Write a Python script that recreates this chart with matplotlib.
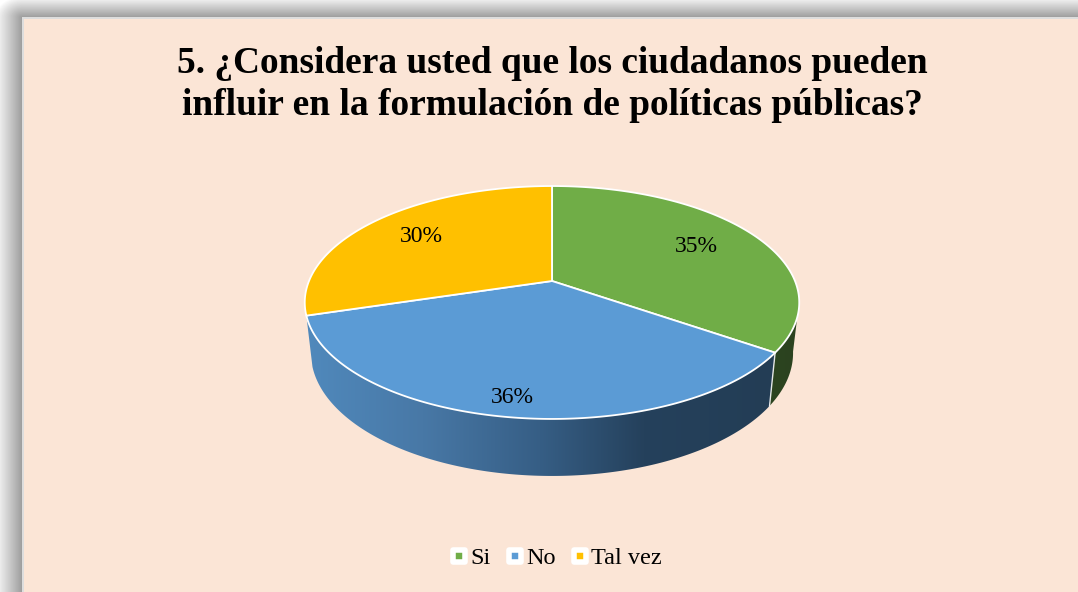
import numpy as np
import matplotlib
matplotlib.use("Agg")
import matplotlib.pyplot as plt
from matplotlib.colors import LinearSegmentedColormap
from matplotlib.lines import Line2D
from matplotlib.markers import MarkerStyle
from matplotlib.patches import Polygon, Rectangle

plt.rcParams['font.family'] = ['Liberation Serif', 'DejaVu Serif']

# ---- data ----
categories = ["Si", "No", "Tal vez"]
values = [35, 36, 30]
labels = ["35%", "36%", "30%"]
title = "5. ¿Considera usted que los ciudadanos pueden\ninfluir en la formulación de políticas públicas?"

# ---- style ----
colors = ["#70AD47", "#5B9BD5", "#FFC000"]
BG = "#FBE5D6"
W, H = 1078, 592
CX, CY = 552.0, 281.0
A, B, K = 243.0, 112.5, 0.1845       # perspective of the top disc
SCALE, DROP = 0.975, 49.3             # lower rim relative to the upper rim
LABEL_R = [0.71, 0.88, 0.72]


def top(theta, r=1.0):
    x, y = r * np.sin(theta), r * np.cos(theta)
    w = 1 + K * y
    return CX + A * x / w, CY - B * y / w


def bottom(theta):
    x, y = np.sin(theta), np.cos(theta)
    w = 1 + K * y
    return CX + SCALE * A * x / w, CY - SCALE * B * y / w + DROP / w


def wall(t0, t1):
    t = np.linspace(t0, t1, 200)
    xt, yt = top(t)
    xb, yb = bottom(t)
    return np.column_stack([np.r_[xt, xb[::-1]], np.r_[yt, yb[::-1]]])


fig = plt.figure(figsize=(W / 100, H / 100), dpi=100, facecolor="white")
ax = fig.add_axes([0, 0, 1, 1])
ax.set_xlim(0, W)
ax.set_ylim(H, 0)
ax.axis("off")

# drop shadow around the panel
PX, PY = 22, 17
yy, xx = np.mgrid[0:H, 0:W]
dx = np.clip(PX - xx, 0, None) / PX
dy = np.clip(PY - yy, 0, None) / PY
d = np.clip(np.hypot(dx, dy), 0, 1.25)
grey = np.clip(0.61 + 0.31 * d, 0, 1)
ax.imshow(grey, cmap="gray", vmin=0, vmax=1, extent=(0, W, H, 0), zorder=0, aspect="auto")
ax.add_patch(Rectangle((PX + 1, PY + 1), W, H, fc=BG, ec="#DDDDDD", lw=1.44, zorder=1))
ax.set_xlim(0, W)
ax.set_ylim(H, 0)

# angles from the values
frac = np.array(values, dtype=float) / np.sum(values)
edges = np.r_[0, np.cumsum(frac)] * 2 * np.pi

# side walls
wall_green = LinearSegmentedColormap.from_list("g", ["#2C4420", "#2B421F"])
wall_blue = LinearSegmentedColormap.from_list(
    "b", [(0, "#5089BC"), (0.25, "#4878A6"), (0.5, "#365E85"), (0.72, "#25415C"), (1, "#233D55")])
for i, cmap in [(0, wall_green), (1, wall_blue)]:
    t0 = np.radians(100) if i == 0 else edges[i]
    t1 = edges[i + 1]
    poly = Polygon(wall(t0, t1), closed=True, fc="none", ec="none", zorder=2)
    ax.add_patch(poly)
    xs = poly.get_xy()[:, 0]
    ys = poly.get_xy()[:, 1]
    grad = np.linspace(0, 1, 256).reshape(1, -1)
    im = ax.imshow(grad, cmap=cmap, vmin=0, vmax=1, aspect="auto", zorder=2,
                   extent=(xs.min(), xs.max(), ys.max(), ys.min()))
    im.set_clip_path(poly)
ax.set_xlim(0, W)
ax.set_ylim(H, 0)

# white seam between the two visible walls
xt, yt = top(edges[1])
xb, yb = bottom(edges[1])
ax.plot([xt, xb], [yt, yb], color="white", lw=1.0, alpha=0.85, zorder=3)

# top wedges
for i, c in enumerate(colors):
    t = np.linspace(edges[i], edges[i + 1], 200)
    x, y = top(t)
    ax.fill(np.r_[CX, x], np.r_[CY, y], fc=c, ec="white", lw=1.3, zorder=4, joinstyle="round")

# data labels
for i, lab in enumerate(labels):
    mid = 0.5 * (edges[i] + edges[i + 1])
    x, y = top(mid, LABEL_R[i])
    ax.text(x, y, lab, fontsize=17, ha="center", va="center", color="black", zorder=5)

# title
ax.text(552, 84.5, title, fontsize=26.9, fontweight="bold", ha="center", va="center",
        linespacing=1.27, color="black", zorder=5)

# legend
handles = [Line2D([], [], ls="none", marker=MarkerStyle("s", joinstyle="round"), ms=9, mfc=c,
                  mec="white", mew=4) for c in colors]
leg = ax.legend(handles, categories, loc="center", bbox_to_anchor=(555.5 / W, 1 - 558 / H),
                bbox_transform=fig.transFigure, ncol=3, frameon=False, fontsize=17.5,
                handlelength=0.8, handletextpad=0.06, columnspacing=0.6, borderpad=0)
leg.set_zorder(6)

fig.savefig("out.png", dpi=100, facecolor="white")
